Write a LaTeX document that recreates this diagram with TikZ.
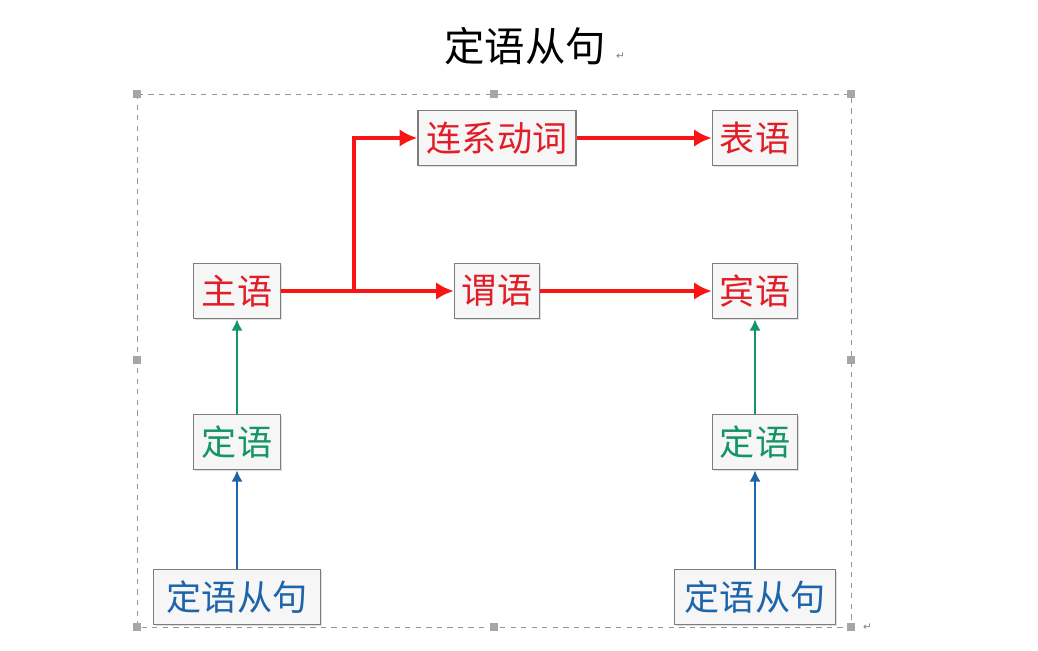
\documentclass[tikz,border=0pt]{standalone}
\usepackage{fontspec}
\newfontfamily\cjk{Noto Sans CJK SC}
\newfontfamily\sym{DejaVu Sans}
\usetikzlibrary{arrows.meta,shadows}
\definecolor{redtxt}{RGB}{225,30,40}
\definecolor{redline}{RGB}{250,20,20}
\definecolor{greentxt}{RGB}{20,150,100}
\definecolor{bluetxt}{RGB}{30,100,170}
\definecolor{boxedge}{RGB}{125,125,125}
\definecolor{boxfill}{RGB}{246,246,246}
\definecolor{framegray}{RGB}{150,150,150}
\tikzset{
  wordbox/.style={draw=boxedge, line width=0.9pt, fill=boxfill, inner sep=0pt,
    minimum height=55*0.02cm, font=\cjk\fontsize{20}{22}\selectfont,
    drop shadow={shadow xshift=0.6pt, shadow yshift=-0.6pt, opacity=0.25}},
  redarrow/.style={draw=redline, line width=2.6pt, -{Latex[length=10pt,width=10pt]}},
  greenarrow/.style={draw=greentxt, line width=1.3pt, -{Latex[length=6.5pt,width=6.5pt]}},
  bluearrow/.style={draw=bluetxt, line width=1.3pt, -{Latex[length=6.5pt,width=6.5pt]}},
  handle/.style={fill=gray!70, draw=none, minimum size=4pt, inner sep=0pt},
}
\begin{document}
\begin{tikzpicture}[x=0.02cm,y=-0.02cm]
  \useasboundingbox (0,0) rectangle (1038,650);
  \fill[white] (0,0) rectangle (1038,650);

  % title
  \node[font=\cjk\fontsize{23}{25}\selectfont] (title) at (525,46) {定语从句};
  \node[font=\sym\fontsize{6}{7}\selectfont, text=gray, anchor=west] (mark1) at (610,56) {↵};

  % dashed selection frame with handles
  \draw[framegray, dashed, line width=0.5pt] (137,94) rectangle (851,627);
  \foreach \hx/\hy [count=\i] in {137/94,494/94,851/94,137/360,851/360,137/627,494/627,851/627}
    \node[handle] (h\i) at (\hx,\hy) {};
  \node[font=\sym\fontsize{6}{7}\selectfont, text=gray, anchor=west] (mark2) at (857,627) {↵};

  % word boxes
  \node[wordbox, minimum width=158*0.02cm, text=redtxt] (link) at (497,138) {连系动词};
  \node[wordbox, minimum width=85*0.02cm, text=redtxt] (pred) at (755,138) {表语};
  \node[wordbox, minimum width=87*0.02cm, text=redtxt] (subj) at (237,291) {主语};
  \node[wordbox, minimum width=85*0.02cm, text=redtxt] (verb) at (497,291) {谓语};
  \node[wordbox, minimum width=85*0.02cm, text=redtxt] (obj) at (755,291) {宾语};
  \node[wordbox, minimum width=87*0.02cm, text=greentxt] (attrL) at (237,442) {定语};
  \node[wordbox, minimum width=85*0.02cm, text=greentxt] (attrR) at (755,442) {定语};
  \node[wordbox, minimum width=167*0.02cm, text=bluetxt] (clauseL) at (237,597) {定语从句};
  \node[wordbox, minimum width=161*0.02cm, text=bluetxt] (clauseR) at (755,597) {定语从句};

  % branch point on the subject line
  \coordinate (fork) at (354,291);

  % red main-clause arrows
  \draw[redarrow] (subj.east) -- (verb.west);
  \draw[redarrow] (fork) |- (link.west);
  \draw[redarrow] (link.east) -- (pred.west);
  \draw[redarrow] (verb.east) -- (obj.west);

  % modifiers
  \draw[greenarrow] (attrL.north) -- (subj.south);
  \draw[greenarrow] (attrR.north) -- (obj.south);
  \draw[bluearrow] (clauseL.north) -- (attrL.south);
  \draw[bluearrow] (clauseR.north) -- (attrR.south);
\end{tikzpicture}
\end{document}
